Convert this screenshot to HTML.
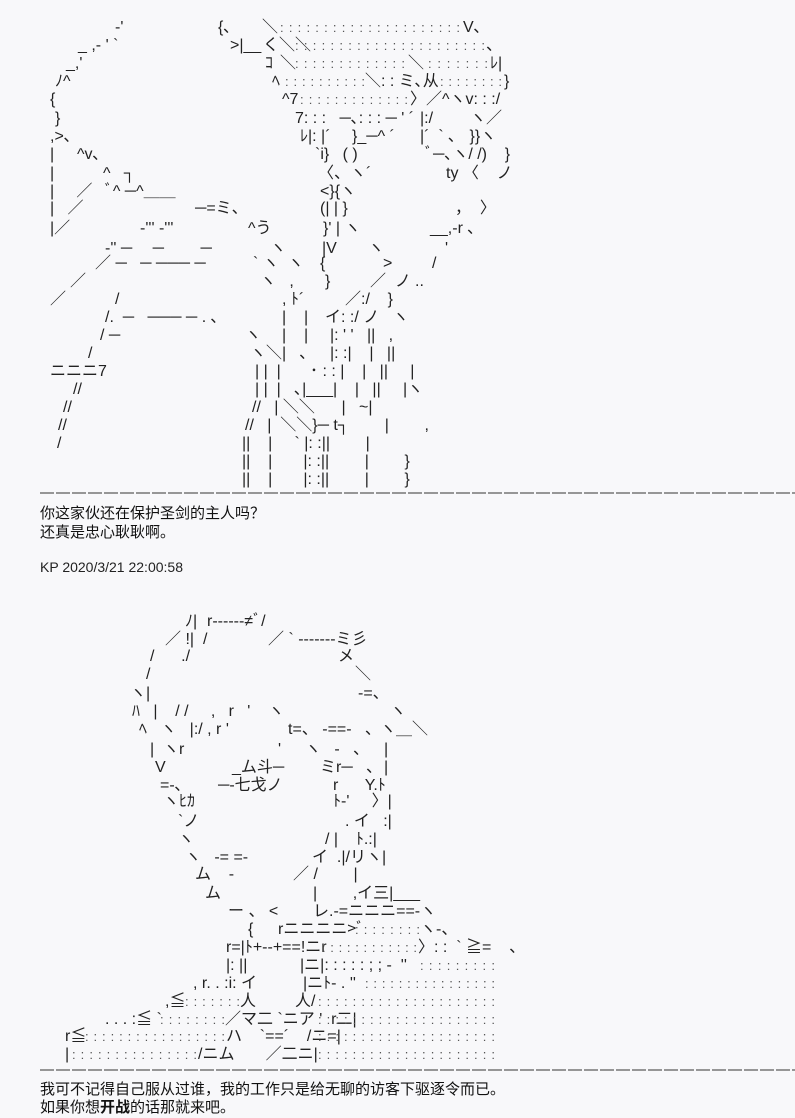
<!DOCTYPE html>
<html><head><meta charset="utf-8"><style>
html,body{margin:0;padding:0;background:#f8f8fa;}
svg{display:block}
text{font-family:"Liberation Sans","Noto Sans CJK SC",sans-serif;font-size:16px;fill:#222;white-space:pre}
.d{font-size:13px;fill:#555}
.c{font-size:15px;fill:#111}
</style></head><body>
<svg width="795" height="1118" viewBox="0 0 795 1118" xmlns="http://www.w3.org/2000/svg">
<!-- top art -->
<text x="115" y="32">‐'</text><text x="218" y="32">{､</text><text x="262" y="32">＼</text>
<text class="d" x="280" y="32" textLength="180" lengthAdjust="spacing">: : : : : : : : : : : : : : : : : : : : :</text><text x="463" y="32">V､</text>
<text x="78" y="50">_ ,- ' `</text><text x="230" y="50">&gt;|__</text><text x="263" y="50">く＼＼</text>
<text class="d" x="295" y="50" textLength="190" lengthAdjust="spacing">: : : : : : : : : : : : : : : : : : : : : :</text><text x="486" y="50">、</text>
<text x="66" y="68">_,'</text><text x="265" y="68">ｺ</text><text x="280" y="68">＼</text>
<text class="d" x="295" y="68" textLength="110" lengthAdjust="spacing">: : : : : : : : : : : : :</text><text x="408" y="68">＼</text>
<text class="d" x="428" y="68" textLength="60" lengthAdjust="spacing">: : : : : : :</text><text x="490" y="68">ﾚ|</text>
<text x="55" y="86">ﾉ^</text><text x="272" y="86">ﾍ</text>
<text class="d" x="285" y="86" textLength="80" lengthAdjust="spacing">: : : : : : : : : :</text><text x="365" y="86">＼: : ミ､从</text>
<text class="d" x="440" y="86" textLength="62" lengthAdjust="spacing">: : : : : : : :</text><text x="504" y="86">}</text>
<text x="50" y="104">{</text><text x="282" y="104">^7</text>
<text class="d" x="300" y="104" textLength="108" lengthAdjust="spacing">: : : : : : : : : : : : :</text><text x="410" y="104">〉／^ヽv: : :/</text>
<text x="55" y="123">}</text><text x="295" y="123">7: : :   ─､: : : ─ ' ´</text><text x="420" y="123">|:/</text><text x="470" y="123">ヽ／</text>
<text x="50" y="141">,&gt;､</text><text x="300" y="141">ﾚ|: |´</text><text x="352" y="141">}_─^ ´</text><text x="420" y="141">|´  ` ､   }}ヽ</text>
<text x="50" y="159">|</text><text x="77" y="159">^v､</text><text x="315" y="159">`i}   ( )</text><text x="425" y="159">ﾞ─､ヽ/ /)    }</text>
<text x="50" y="178">|</text><text x="103" y="178">^   ┐</text><text x="318" y="178">〈、ヽ´</text><text x="446" y="178">ty 〈    ノ</text>
<text x="50" y="196">|     ／   ﾞ^ ─^＿＿</text><text x="320" y="196">&lt;}{ヽ</text>
<text x="50" y="213">|   ／</text><text x="195" y="213">─=ミ、</text><text x="320" y="213">(| | }</text><text x="455" y="213">，  〉</text>
<text x="50" y="233">|／</text><text x="140" y="233">‐''' ‐'''</text><text x="248" y="233">^う</text><text x="323" y="233">}' | ヽ</text><text x="430" y="233">__,-r ､</text>
<text x="105" y="253">‐'' ─　 ─　 　─</text><text x="270" y="253">ヽ</text><text x="322" y="253">|V</text><text x="368" y="253">ヽ</text><text x="445" y="253">'</text>
<text x="95" y="268">／ ─   ─ ─── ─</text><text x="253" y="268">` ヽ  ヽ</text><text x="320" y="268">{</text><text x="383" y="268">&gt;</text><text x="432" y="268">/</text>
<text x="70" y="286">／</text><text x="260" y="286">ヽ   ,</text><text x="325" y="286">}</text><text x="370" y="286">／  ノ</text><text x="415" y="286">..</text>
<text x="50" y="304">／</text><text x="115" y="304">/</text><text x="282" y="304">, ﾄ´</text><text x="345" y="304">／:/    }</text>
<text x="105" y="322">/.  ─   ─── ─ . ､</text><text x="282" y="322">|    |</text><text x="325" y="322">イ: :/ ノ   ヽ</text>
<text x="100" y="340">/ ─</text><text x="245" y="340">ヽ</text><text x="282" y="340">|    |</text><text x="330" y="340">|: ' '   ||   ,</text>
<text x="88" y="358">/</text><text x="250" y="358">ヽ＼|   ､</text><text x="330" y="358">|: :|    |   ||</text>
<text x="50" y="376">ニニニ7</text><text x="255" y="376">| |  |</text><text x="310" y="376">･ : : |    |   ||     |</text>
<text x="73" y="394">//</text><text x="255" y="394">| |  |   ､|___|    |   ||     |ヽ</text>
<text x="63" y="412">//</text><text x="252" y="412">//   | ＼＼      |   ~|</text>
<text x="58" y="430">//</text><text x="245" y="430">//   |  ＼＼}─ t┐        |        ,</text>
<text x="57" y="448">/</text><text x="242" y="448">||    |     ` |: :||        |</text>
<text x="242" y="466">||    |       |: :||        |        }</text>
<text x="242" y="484">||    |       |: :||        |        }</text>
<line x1="40" y1="493" x2="795" y2="493" stroke="#333" stroke-width="1" stroke-dasharray="14 2"/>
<text class="c" x="40" y="518">你这家伙还在保护圣剑的主人吗？</text>
<text class="c" x="40" y="537">还真是忠心耿耿啊。</text>
<text x="40" y="572" style="font-size:14px">KP 2020/3/21 22:00:58</text>
<!-- bottom art -->
<text x="185" y="626">ﾉ|</text><text x="207" y="626">r------≠ﾞ/</text>
<text x="165" y="644">／ !|  /</text><text x="268" y="644">／ ` -------ミ彡</text>
<text x="150" y="661">/      ./</text><text x="338" y="661">メ</text>
<text x="146" y="679">/</text><text x="355" y="679">＼</text>
<text x="130" y="698">ヽ|</text><text x="358" y="698">-=、</text>
<text x="132" y="716">ﾊ   |    / /     ,   r   '    ヽ</text><text x="390" y="716">ヽ</text>
<text x="139" y="734">ﾍ   ヽ   |:/ , r '</text><text x="288" y="734">t=、 -==-   、</text><text x="380" y="734">ヽ＿＼</text>
<text x="150" y="754">|  ヽr</text><text x="278" y="754">'</text><text x="305" y="754">ヽ   -   、</text><text x="384" y="754">|</text>
<text x="155" y="772">V</text><text x="232" y="772">_ム斗─</text><text x="320" y="772">ミr─   、</text><text x="384" y="772">|</text>
<text x="160" y="790">=-､</text><text x="218" y="790">─‐七戈ノ</text><text x="333" y="790">r      Y.ﾄ</text>
<text x="163" y="806">ヽﾋｶ</text><text x="333" y="806">ﾄ-'     〉|</text>
<text x="178" y="826">`ノ</text><text x="345" y="826">. イ   :|</text>
<text x="178" y="844">ヽ</text><text x="325" y="844">/ |    ﾄ.:|</text>
<text x="185" y="862">ヽ   -= =-</text><text x="312" y="862">イ  .|/リヽ|</text>
<text x="195" y="879">ム    -</text><text x="293" y="879">／ /        |</text>
<text x="205" y="898">ム</text><text x="313" y="898">|        ,イ三|___</text>
<text x="228" y="916">ー 、 &lt;</text><text x="313" y="916">レ.-=ニニニ==-ヽ</text>
<text x="248" y="934">{</text><text x="278" y="934">rニニニニ&gt;ﾞ</text><text class="d" x="355" y="934" textLength="65" lengthAdjust="spacing">: : : : : : : :</text><text x="420" y="934">ヽ-、</text>
<text x="226" y="952">r=|ﾄ+--+==!ニr</text><text class="d" x="322" y="952" textLength="95" lengthAdjust="spacing">: : : : : : : : : : : :</text><text x="418" y="952">〉: :  ` ≧=    、</text>
<text x="226" y="970">|: ||</text><text x="300" y="970">|ニ|: : : : : ; ; -  ''</text><text class="d" x="420" y="970" textLength="75" lengthAdjust="spacing">: : : : : : : : :</text>
<text x="193" y="988">, r. . :i: イ</text><text x="303" y="988">|ニﾄ- . ''</text><text class="d" x="365" y="988" textLength="130" lengthAdjust="spacing">: : : : : : : : : : : : : : : :</text>
<text x="165" y="1006">,≦</text><text class="d" x="185" y="1006" textLength="55" lengthAdjust="spacing">: : : : : : :</text><text x="240" y="1006">人</text><text x="295" y="1006">人/</text><text class="d" x="318" y="1006" textLength="177" lengthAdjust="spacing">: : : : : : : : : : : : : : : : : : : : :</text>
<text x="105" y="1024">. . . :≦ `</text><text class="d" x="160" y="1024" textLength="65" lengthAdjust="spacing">: : : : : : : :</text><text x="225" y="1024">／マ二 `ニア '  r二|</text><text class="d" x="318" y="1024" textLength="177" lengthAdjust="spacing">: : : : : : : : : : : : : : : : : : : : :</text>
<text x="65" y="1041">r≦</text><text class="d" x="85" y="1041" textLength="140" lengthAdjust="spacing">: : : : : : : : : : : : : : : : :</text><text x="226" y="1041">ハ    `==´    /ニ=|</text><text class="d" x="318" y="1041" textLength="177" lengthAdjust="spacing">: : : : : : : : : : : : : : : : : : : : :</text>
<text x="65" y="1059">|</text><text class="d" x="72" y="1059" textLength="125" lengthAdjust="spacing">: : : : : : : : : : : : : : :</text><text x="198" y="1059">/ニム       ／二ニ|</text><text class="d" x="318" y="1059" textLength="177" lengthAdjust="spacing">: : : : : : : : : : : : : : : : : : : : :</text>
<line x1="40" y1="1070" x2="795" y2="1070" stroke="#333" stroke-width="1" stroke-dasharray="14 2"/>
<text class="c" x="40" y="1094">我可不记得自己服从过谁，我的工作只是给无聊的访客下驱逐令而已。</text>
<text class="c" x="40" y="1112">如果你想<tspan font-weight="bold">开战</tspan>的话那就来吧。</text>
</svg>
</body></html>
